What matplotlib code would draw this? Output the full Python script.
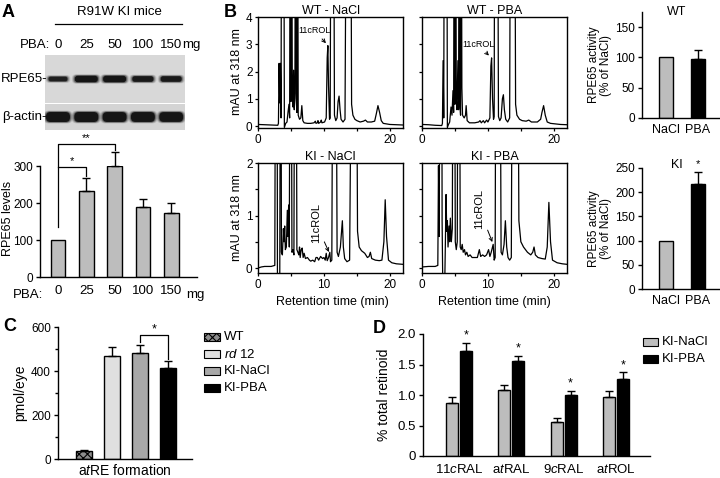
import numpy as np
import matplotlib
matplotlib.use('Agg')
import matplotlib.pyplot as plt
from matplotlib.patches import Rectangle, FancyBboxPatch

plt.rcParams['font.family'] = ['Liberation Sans', 'DejaVu Sans']
plt.rcParams['mathtext.fontset'] = 'custom'
plt.rcParams['mathtext.rm'] = 'Liberation Sans'
plt.rcParams['mathtext.it'] = 'Liberation Sans:italic'
plt.rcParams['axes.linewidth'] = 1.0
plt.rcParams['hatch.linewidth'] = 0.8

# ---------------- data ----------------
# panel A
doses = ['0', '25', '50', '100', '150']
rpe65_levels = [100, 232, 300, 189, 173]
rpe65_err = [0, 35, 38, 21, 27]
rpe65_band = [0.55, 1.0, 1.0, 0.8, 0.78]   # relative band strength
actin_band = [1.0, 1.0, 0.95, 0.95, 0.9]

# panel B chromatograms (retention time min, mAU)
wt_nacl = [(0, 0.06), (1, 0.05), (2, 0.04), (3.0, 0.03), (3.1, 0.1), (3.2, 2.3), (3.3, 0.85),
           (3.4, 2.3), (3.5, 0.3), (3.58, 12), (3.9, 12), (4.0, -0.05), (4.2, 0.1), (4.4, 0.15),
           (4.55, 0.5), (4.7, 0.8), (4.8, 0.3), (4.9, 12), (5.0, 0.9), (5.1, 12), (5.2, 1.3),
           (5.3, 0.7), (5.4, 2.05), (5.5, 0.6), (5.6, 1.2), (5.7, 12), (5.8, 1.0), (5.9, 0.5),
           (6.0, 12), (6.1, 0.4), (6.3, 0.25), (6.5, 0.3), (6.65, 0.75), (6.8, 0.2), (7.0, 0.12),
           (7.5, 0.1), (8.0, 0.1), (8.5, 0.12), (8.7, 0.18), (8.8, 0.1), (9.0, 0.12), (9.1, 0.2),
           (9.2, 0.1), (9.5, 0.15), (9.6, 0.22), (9.7, 0.12), (10.1, 0.15), (10.35, 0.3),
           (10.5, 2.5), (10.6, 2.95), (10.7, 1.5), (10.85, 0.25), (10.95, 0.3), (11.1, 12),
           (11.45, 12), (11.6, 0.4), (11.8, 0.2), (12.0, 0.3), (12.15, 0.9), (12.3, 1.1),
           (12.45, 0.6), (12.6, 0.25), (12.9, 0.15), (13.2, 0.25), (13.45, 12), (14.05, 12),
           (14.2, 0.8), (14.4, 0.4), (14.7, 0.25), (15.0, 0.2), (15.5, 0.15), (16.0, 0.18),
           (16.3, 0.22), (16.6, 0.15), (17.2, 0.15), (17.7, 0.18), (17.95, 0.45), (18.2, 0.75),
           (18.45, 0.5), (18.7, 0.2), (19.0, 0.1), (20.0, 0.06), (21.0, 0.05), (22.0, 0.04)]
wt_pba = [(0, 0.06), (1, 0.05), (2, 0.03), (3.0, 0.02), (3.1, 0.1), (3.2, 2.4), (3.3, 0.3),
          (3.4, 12), (3.75, 12), (3.85, -0.05), (4.0, 0.05), (4.2, 0.15), (4.4, 0.7), (4.55, 0.4),
          (4.7, 1.3), (4.8, 0.5), (4.9, 12), (5.0, 0.8), (5.1, 12), (5.2, 1.0), (5.3, 0.6),
          (5.45, 2.4), (5.55, 0.6), (5.65, 12), (5.75, 0.8), (5.85, 0.4), (5.95, 12), (6.05, 1.4),
          (6.15, 0.4), (6.4, 0.3), (6.6, 0.4), (6.7, 0.75), (6.85, 0.2), (7.2, 0.12), (8.0, 0.12),
          (8.6, 0.15), (8.8, 0.2), (9.0, 0.12), (9.3, 0.2), (9.5, 0.12), (9.8, 0.22), (10.0, 0.15),
          (10.3, 0.3), (10.45, 2.2), (10.56, 2.5), (10.7, 1.0), (10.85, 0.25), (10.95, 0.35),
          (11.05, 12), (11.45, 12), (11.6, 0.35), (11.8, 0.2), (12.0, 0.3), (12.2, 1.0),
          (12.35, 1.15), (12.5, 0.6), (12.7, 0.25), (13.0, 0.15), (13.3, 0.3), (13.45, 12),
          (14.05, 12), (14.2, 0.8), (14.4, 0.4), (14.8, 0.25), (15.2, 0.2), (15.8, 0.18),
          (16.2, 0.22), (16.6, 0.15), (17.5, 0.15), (18.0, 0.25), (18.2, 0.5), (18.45, 0.75),
          (18.7, 0.4), (19.0, 0.15), (19.5, 0.1), (21.0, 0.06), (22.0, 0.05)]
ki_nacl = [(0, 0.0), (0.5, 0.02), (1, 0.03), (2, 0.03), (2.55, 0.05), (2.65, 5), (2.9, 5),
           (2.95, -0.3), (3.3, -0.3), (3.4, 5), (3.5, 5), (3.55, 0.3), (3.7, 0.25), (3.85, 0.75),
           (3.95, 0.5), (4.05, 0.8), (4.15, 0.35), (4.3, 0.4), (4.45, 1.1), (4.55, 0.6),
           (4.65, 1.2), (4.75, 0.4), (4.85, 5), (5.05, 5), (5.15, 0.3), (5.3, 0.35), (5.45, 0.25),
           (5.55, 5), (5.8, 5), (5.9, 0.35), (6.05, 0.3), (6.2, 0.25), (6.3, 0.4), (6.4, 0.2),
           (6.55, 0.35), (6.7, 0.38), (6.85, 0.2), (7.0, 0.28), (7.2, 0.18), (7.5, 0.2),
           (7.8, 0.15), (8.0, 0.13), (8.3, 0.15), (8.6, 0.12), (8.8, 0.2), (9.0, 0.2), (9.2, 0.15),
           (9.5, 0.22), (9.8, 0.18), (10.0, 0.2), (10.2, 0.15), (10.35, 0.28), (10.5, 0.14),
           (10.7, 0.2), (10.9, 0.3), (11.0, 0.12), (11.2, 0.15), (11.35, 5), (11.85, 5),
           (12.0, 0.3), (12.2, 0.22), (12.5, 0.4), (12.8, 0.9), (12.95, 0.4), (13.15, 0.18),
           (13.5, 0.12), (13.9, 0.15), (14.2, 5), (14.95, 5), (15.1, 0.7), (15.35, 0.4),
           (15.7, 0.33), (16.2, 0.28), (16.6, 0.2), (16.85, 0.22), (17.05, 0.3), (17.25, 0.18),
           (17.8, 0.15), (18.4, 0.14), (18.8, 0.15), (19.1, 0.5), (19.3, 1.3), (19.5, 0.6),
           (19.8, 0.15), (20.3, 0.1), (21.0, 0.08), (22.0, 0.07)]
ki_pba = [(0, 0.02), (1, 0.03), (2, 0.03), (2.4, 0.05), (2.5, 1.95), (2.6, 0.6), (2.75, 5),
          (3.0, 5), (3.05, 0.9), (3.15, -0.3), (3.45, -0.3), (3.55, 0.5), (3.65, 1.4), (3.75, 0.7),
          (3.85, 0.9), (3.95, 0.4), (4.1, 0.8), (4.2, 0.5), (4.3, 0.95), (4.45, 0.5), (4.6, 0.75),
          (4.7, 5), (4.95, 5), (5.05, 0.5), (5.2, 0.35), (5.35, 0.5), (5.45, 5), (5.7, 5),
          (5.8, 0.4), (5.95, 0.35), (6.1, 0.45), (6.25, 0.3), (6.45, 0.35), (6.6, 0.25),
          (6.8, 0.3), (7.0, 0.22), (7.3, 0.25), (7.6, 0.2), (8.0, 0.2), (8.4, 0.2), (8.7, 0.35),
          (8.9, 0.22), (9.2, 0.25), (9.5, 0.22), (9.8, 0.25), (10.1, 0.35), (10.3, 0.22),
          (10.5, 0.3), (10.8, 0.45), (10.95, 0.15), (11.1, 0.2), (11.2, 5), (11.85, 5),
          (12.0, 0.3), (12.2, 0.25), (12.45, 0.45), (12.65, 0.9), (12.85, 0.4), (13.05, 0.2),
          (13.3, 0.15), (13.55, 0.2), (13.7, 5), (14.55, 5), (14.7, 0.9), (15.0, 0.5),
          (15.4, 0.4), (16.0, 0.3), (16.5, 0.25), (16.8, 0.3), (17.0, 0.4), (17.2, 0.25),
          (17.6, 0.2), (18.2, 0.18), (18.7, 0.17), (19.0, 0.4), (19.25, 1.25), (19.5, 0.5),
          (19.8, 0.15), (20.5, 0.1), (21.3, 0.08), (22.0, 0.07)]

# panel B activity bars
treat = ['NaCl', 'PBA']
wt_activity = [100, 97]
wt_activity_err = [0, 15]
ki_activity = [100, 216]
ki_activity_err = [0, 25]

# panel C
c_groups = ['WT', r'$\it{rd}$ 12', 'KI-NaCl', 'KI-PBA']
c_values = [35, 468, 482, 414]
c_err = [6, 40, 36, 31]

# panel D
d_retinoids = [r'11$\it{c}$RAL', r'a$\it{t}$RAL', r'9$\it{c}$RAL', r'a$\it{t}$ROL']
d_nacl = [0.87, 1.08, 0.56, 0.96]
d_nacl_err = [0.10, 0.08, 0.06, 0.10]
d_pba = [1.72, 1.56, 1.00, 1.27]
d_pba_err = [0.14, 0.08, 0.07, 0.10]

GRAY = '#bdbdbd'
W, H = 720, 478
fig = plt.figure(figsize=(7.2, 4.78), dpi=100)


def box(x0, y0, x1, y1):
    # pixel box (top-left origin) -> figure fraction rect
    return [x0 / W, 1 - y1 / H, (x1 - x0) / W, (y1 - y0) / H]


def ftext(x, y, s, **kw):
    fig.text(x / W, 1 - y / H, s, **kw)


def prism(ax):
    ax.spines['top'].set_visible(False)
    ax.spines['right'].set_visible(False)
    ax.tick_params(direction='out', length=3, width=1, labelsize=8.5, pad=2)


def upper_err(ax, x, v, e):
    ax.errorbar(x, v, yerr=[np.zeros(len(e)), e], fmt='none', ecolor='k',
                elinewidth=1, capsize=3, capthick=1, clip_on=False)


# ---------------- panel A: blot ----------------
ftext(2, 4, 'A', weight='bold', size=13, va='top')
ftext(119, 12, 'R91W KI mice', size=9.5, ha='center', va='center')
fig.add_artist(plt.Line2D([55 / W, 182 / W], [1 - 24 / H, 1 - 24 / H], color='k', lw=0.9))
lane_px = 58 + 28.3 * np.arange(len(doses))
ftext(50, 45, 'PBA:', size=9.5, ha='right', va='center')
for xp, d in zip(lane_px, doses):
    ftext(xp, 45, d, size=9.5, ha='center', va='center')
ftext(191, 45, 'mg', size=9.5, ha='center', va='center')
ftext(47, 79, 'RPE65-', size=9.5, ha='right', va='center')
ftext(47, 117, '\u03b2-actin-', size=9.5, ha='right', va='center')

blot = fig.add_axes(box(45, 55, 185, 130))
blot.set_xlim(45, 185)
blot.set_ylim(0, 75)     # y measured up from the blot bottom (px)
blot.axis('off')
blot.add_patch(Rectangle((45, 27.5), 140, 47.5, fc='#d8d8d8', ec='none'))
blot.add_patch(Rectangle((45, 0), 140, 26, fc='#d4d4d4', ec='none'))


def band(xc, yc, w, h, strength):
    for grow, a in [(3, 0.12), (2, 0.22), (1, 0.4), (0, 0.95)]:
        ww, hh = w + 2 * grow, h + grow
        blot.add_patch(FancyBboxPatch((xc - ww / 2, yc - hh / 2), ww, hh,
                                      boxstyle='round,pad=0,rounding_size=%.2f' % (hh / 2.2),
                                      fc='#111111', ec='none', alpha=a * strength))


for xp, s in zip(lane_px, rpe65_band):
    band(xp, 51, 14 + 9 * s, 2.5 + 4 * s, 0.75 + 0.25 * s)
for xp, s in zip(lane_px, actin_band):
    band(xp, 13, 22 + 2 * s, 8 + 2 * s, 1.0)

# ---------------- panel A: bar chart ----------------
ax = fig.add_axes(box(40, 166, 197, 277))
prism(ax)
xa = np.arange(len(doses))
ax.bar(xa, rpe65_levels, width=0.52, color=GRAY, edgecolor='k', lw=1)
upper_err(ax, xa[1:], rpe65_levels[1:], rpe65_err[1:])
ax.set_xlim((40 - 58) / 28.3, (197 - 58) / 28.3)
ax.set_ylim(0, 300)
ax.set_yticks([0, 100, 200, 300])
ax.set_xticks(xa)
ax.set_xticklabels(doses)
ax.tick_params(axis='x', length=0, pad=6, labelsize=9.5)
# significance brackets
ax.plot([0, 0, 2, 2], [135, 360, 360, 342], color='k', lw=0.9, clip_on=False)
ax.plot([0, 1, 1], [297, 297, 272], color='k', lw=0.9, clip_on=False)
ax.text(1.0, 362, '**', ha='center', va='bottom', size=8)
ax.text(0.5, 299, '*', ha='center', va='bottom', size=8)
ftext(43, 295, 'PBA:', size=9.5, ha='right', va='center')
ftext(195, 295, 'mg', size=9.5, ha='center', va='center')
ftext(8, 218, 'RPE65 levels', size=9, rotation=90, ha='center', va='center')

# ---------------- panel B: chromatograms ----------------
ftext(224, 4, 'B', weight='bold', size=13, va='top')


def chrom(rect, trace, ylim, yticks, ylabels, xlabels, title, note):
    a = fig.add_axes(rect)
    t, v = np.array(trace).T
    a.plot(t, v, color='k', lw=0.9)
    a.set_xlim(0, 22)
    a.set_ylim(*ylim)
    a.set_xticks([0, 5, 10, 15, 20])
    a.set_xticklabels(xlabels)
    a.set_yticks(yticks)
    a.set_yticklabels(ylabels)
    a.tick_params(direction='out', length=2.5, width=0.9, labelsize=8.5, pad=1.5)
    a.set_title(title, size=9, pad=2)
    txt, xy, xyt, rot, fs = note
    a.annotate(txt, xy=xy, xytext=xyt, rotation=rot, size=fs, ha='center', va='center',
               arrowprops=dict(arrowstyle='->', lw=0.7, color='k', shrinkA=1, shrinkB=1,
                               mutation_scale=6))
    return a


row1_y = [0, 1, 2, 3, 4]
row2_y = [0, 0.5, 1, 1.5, 2]
chrom(box(258, 17, 403, 128), wt_nacl, (-0.07, 4), row1_y, ['0', '1', '2', '3', '4'],
      ['0', '', '', '', '20'], 'WT - NaCl', ('11cROL', (10.45, 3.0), (8.6, 3.5), 0, 6.5))
chrom(box(422, 17, 567, 128), wt_pba, (-0.07, 4), row1_y, [''] * 5,
      ['0', '', '', '', '20'], 'WT - PBA', ('11cROL', (10.3, 2.55), (8.5, 3.0), 0, 6.5))
chrom(box(258, 163, 403, 273), ki_nacl, (-0.095, 2), row2_y, ['0', '', '1', '', '2'],
      ['0', '', '10', '', '20'], 'KI - NaCl', ('11cROL', (10.85, 0.28), (8.8, 0.85), 90, 8))
chrom(box(422, 163, 567, 273), ki_pba, (-0.095, 2), row2_y, [''] * 5,
      ['0', '', '10', '', '20'], 'KI - PBA', ('11cROL', (10.75, 0.47), (8.7, 1.12), 90, 8))
ftext(237, 72, 'mAU at 318 nm', size=9, rotation=90, ha='center', va='center')
ftext(237, 218, 'mAU at 318 nm', size=9, rotation=90, ha='center', va='center')
ftext(332, 302, 'Retention time (min)', size=9, ha='center', va='center')
ftext(494, 302, 'Retention time (min)', size=9, ha='center', va='center')

# ---------------- panel B: activity bars ----------------
xb = np.arange(2)
for rect, vals, errs, ymax, yt, ttl, ty in [
        (box(642, 12, 720, 118), wt_activity, wt_activity_err, 175, [0, 50, 100, 150], 'WT', 12),
        (box(642, 168, 720, 289), ki_activity, ki_activity_err, 250,
         [0, 50, 100, 150, 200, 250], 'KI', 165)]:
    a = fig.add_axes(rect)
    prism(a)
    a.bar(xb, vals, width=0.42, color=[GRAY, 'k'], edgecolor='k', lw=1)
    upper_err(a, xb[1:], vals[1:], errs[1:])
    a.set_xlim(-0.75, 1.69)
    a.set_ylim(0, ymax)
    a.set_yticks(yt)
    a.set_xticks(xb)
    a.set_xticklabels(treat)
    a.tick_params(axis='x', length=0, pad=4, labelsize=9)
    ftext(677, ty, ttl, size=9, ha='center', va='center')
    if ttl == 'KI':
        a.text(1, vals[1] + errs[1] + 6, '*', ha='center', va='bottom', size=8)
    yc = (rect[1] + rect[3] / 2)
    fig.text(600 / W, yc, 'RPE65 activity\n(% of NaCl)', size=8.5, rotation=90,
             ha='center', va='center', linespacing=1.1)

# ---------------- panel C ----------------
ftext(3, 318, 'C', weight='bold', size=13, va='top')
ax = fig.add_axes(box(58, 327, 192, 459))
prism(ax)
xc = np.arange(len(c_groups))
c_colors = ['#8c8c8c', '#e0e0e0', '#a8a8a8', 'k']
bars = ax.bar(xc, c_values, width=0.54, color=c_colors, edgecolor='k', lw=1)
bars[0].set_hatch('xxxx')
upper_err(ax, xc, c_values, c_err)
ax.set_xlim((58 - 84) / 28, (192 - 84) / 28)
ax.set_ylim(0, 600)
ax.set_yticks([0, 200, 400, 600])
ax.set_yticks([100, 300, 500], minor=True)
ax.tick_params(axis='y', which='minor', direction='out', length=2.5, width=1)
ax.set_xticks([])
ax.set_xlabel(r'a$\it{t}$RE formation', size=10, labelpad=3)
ax.set_ylabel('pmol/eye', size=10, labelpad=3)
ax.plot([2, 2, 3, 3], [530, 562, 562, 455], color='k', lw=0.9, clip_on=False)
ax.text(2.5, 562, '*', ha='center', va='bottom', size=9)
for i, (lab, col) in enumerate(zip(c_groups, c_colors)):
    yc = 337 + 17 * i
    r = Rectangle((204 / W, 1 - (yc + 4) / H), 16 / W, 8 / H, transform=fig.transFigure,
                  fc=col, ec='k', lw=0.8, hatch='xxxx' if i == 0 else None)
    fig.add_artist(r)
    ftext(224, yc, lab, size=9.5, va='center')

# ---------------- panel D ----------------
ftext(373, 320, 'D', weight='bold', size=13, va='top')
ax = fig.add_axes(box(423, 334, 650, 456))
prism(ax)
xd = np.arange(len(d_retinoids))
off = 0.134
ax.bar(xd - off, d_nacl, width=0.23, color=GRAY, edgecolor='k', lw=1)
ax.bar(xd + off, d_pba, width=0.23, color='k', edgecolor='k', lw=1)
upper_err(ax, xd - off, d_nacl, d_nacl_err)
upper_err(ax, xd + off, d_pba, d_pba_err)
for i in xd:
    ax.text(i + off, d_pba[i] + d_pba_err[i] + 0.02, '*', ha='center', va='bottom', size=9)
ax.set_xlim((423 - 459) / 52.3, (650 - 459) / 52.3)
ax.set_ylim(0, 2.0)
ax.set_yticks([0, 0.5, 1.0, 1.5, 2.0])
ax.set_yticklabels(['0', '0.5', '1.0', '1.5', '2.0'])
ax.set_xticks(xd)
ax.set_xticklabels(d_retinoids)
ax.tick_params(axis='x', length=0, pad=5, labelsize=9.5)
ax.tick_params(axis='y', labelsize=9.5)
ax.set_ylabel('% total retinoid', size=10, labelpad=5)
for i, (lab, col) in enumerate(zip(['KI-NaCl', 'KI-PBA'], [GRAY, 'k'])):
    yc = 342 + 17 * i
    fig.add_artist(Rectangle((643 / W, 1 - (yc + 4) / H), 15 / W, 8 / H,
                             transform=fig.transFigure, fc=col, ec='k', lw=0.8))
    ftext(662, yc, lab, size=9.5, va='center')

fig.savefig('out.png', dpi=100, facecolor='white')
